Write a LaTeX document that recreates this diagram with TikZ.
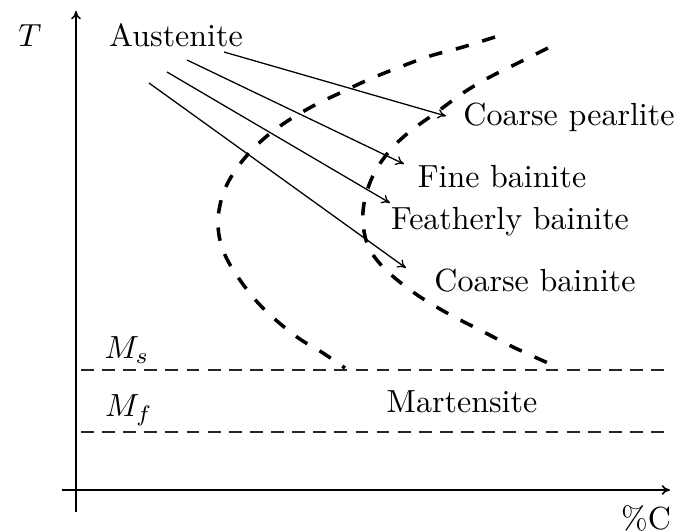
\documentclass[tikz,border=0pt]{standalone}
\usetikzlibrary{arrows.meta}
\begin{document}
\begin{tikzpicture}[x=0.3125pt,y=-0.3125pt,
  lbl/.style={inner sep=0pt,font=\normalsize},
  axis/.style={line width=0.5pt,-{To[length=2.6pt,width=3pt]}},
  trans/.style={line width=0.4pt,-{To[length=2.6pt,width=3pt]}},
  curve/.style={line width=1.1pt,dash pattern=on 4.2pt off 4.4pt},
  level/.style={line width=0.5pt,black!85,dash pattern=on 4pt off 2.6pt}]
\useasboundingbox (0,0) rectangle (680,531);
% axes
\coordinate (yb) at (76,512);
\coordinate (yt) at (76,11);
\coordinate (xl) at (62,490);
\coordinate (xr) at (670,490);
\draw[axis] (yb) -- (yt);
\draw[axis] (xl) -- (xr);
\node[lbl] (T) at (30,36) {$T$};
\node[lbl] (C) at (646,518) {\%C};
% labels
\node[lbl] (aus) at (176,35) {Austenite};
\node[lbl] (cp) at (569,117) {Coarse pearlite};
\node[lbl] (fb) at (502,177) {Fine bainite};
\node[lbl] (feb) at (510,222) {Featherly bainite};
\node[lbl] (cb) at (535,281) {Coarse bainite};
\node[lbl] (ms) at (127,350) {$M_s$};
\node[lbl] (mf) at (129,410) {$M_f$};
\node[lbl] (mart) at (462,402) {Martensite};
% C-curves
\draw[curve] plot[smooth,tension=0.6] coordinates {(495,37) (463,47) (430,56) (400,67) (370,79) (340,93) (313,106) (283,124) (258,144) (237,168) (223,194) (218,225) (225,255) (245,287) (267,312) (297,337) (323,353) (345,368)};
\draw[curve] plot[smooth,tension=0.6] coordinates {(548,48) (520,62) (488,78) (463,93) (437,112) (408,133) (387,154) (371,180) (363,212) (367,243) (383,267) (413,292) (447,313) (480,330) (513,347) (548,363)};
% transformation arrows
\coordinate (s1) at (224,52);
\coordinate (e1) at (446,116);
\coordinate (s2) at (187,60);
\coordinate (e2) at (404,164);
\coordinate (s3) at (167,72);
\coordinate (e3) at (390,203);
\coordinate (s4) at (149,83);
\coordinate (e4) at (406,268);
\draw[trans] (s1) -- (e1);
\draw[trans] (s2) -- (e2);
\draw[trans] (s3) -- (e3);
\draw[trans] (s4) -- (e4);
% Ms and Mf
\coordinate (msl) at (81,370);
\coordinate (msr) at (666,370);
\coordinate (mfl) at (81,432);
\coordinate (mfr) at (666,432);
\draw[level] (msl) -- (msr);
\draw[level] (mfl) -- (mfr);
\end{tikzpicture}
\end{document}
